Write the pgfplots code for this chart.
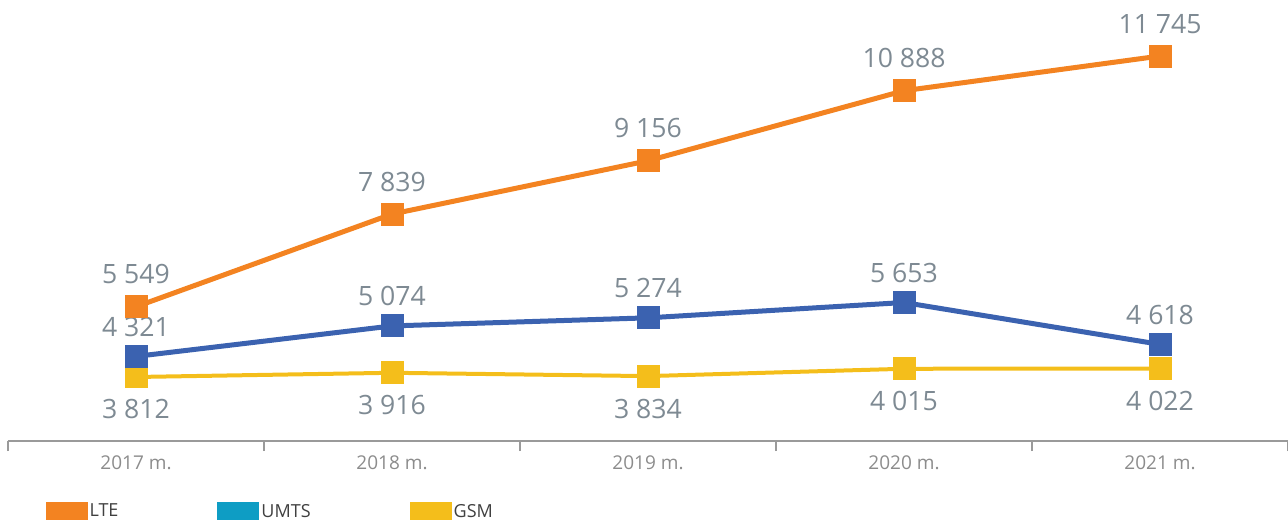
\documentclass[border=0pt]{standalone}
\usepackage{fontspec}
\setmainfont{Open Sans}
\usepackage{pgfplots}
\pgfplotsset{compat=1.18}
\definecolor{lte}{HTML}{F38321}
\definecolor{umts}{HTML}{3B62B0}
\definecolor{umtsleg}{HTML}{0E9DC4}
\definecolor{gsm}{HTML}{F4BE1B}
\definecolor{lbl}{HTML}{7E8A93}
\definecolor{ticktxt}{HTML}{8C8C8C}
\definecolor{axl}{HTML}{9A9A9A}
\definecolor{legtxt}{HTML}{404040}

\begin{document}
\begin{tikzpicture}
\begin{axis}[
  name=ax,
  scale only axis,
  width=640pt, height=220.5pt,
  xmin=-0.5, xmax=4.5,
  ymin=2230, ymax=13130,
  axis x line*=bottom,
  axis y line=none,
  axis line style={axl, line width=1pt},
  xtick={0,...,4},
  xticklabels={2017 m.,2018 m.,2019 m.,2020 m.,2021 m.},
  major tick length=0pt,
  minor xtick={-0.5,0.5,1.5,2.5,3.5,4.5},
  minor tick length=5pt,
  tick align=outside,
  minor tick style={axl, line width=1pt},
  xticklabel style={font=\fontsize{9.5}{11}\selectfont, text=ticktxt, yshift=-4pt},
  clip=false,
  /pgf/number format/assume math mode=true,
  nodes near coords={\pgfmathprintnumber[fixed,precision=0,1000 sep={\ }]{\pgfplotspointmeta}},
  every node near coord/.append style={font=\fontsize{13.3}{15}\selectfont, text=lbl, inner sep=0pt, anchor=base},
  legend image code/.code={\fill[#1, draw=none] (0pt,-5pt) rectangle (21pt,5pt);},
  legend style={at={(rel axis cs:0.029,-0.161)}, anchor=west, draw=none, fill=none,
    inner sep=0pt, legend columns=3, font=\fontsize{9}{10}\selectfont, text=legtxt,
    nodes={inner sep=1pt},
    /tikz/every even column/.append style={column sep=48.5pt}},
]

\addplot[gsm, line width=2pt, mark=square*, mark size=4.75pt, forget plot,
  every node near coord/.append style={yshift=-21pt}]
  coordinates {(0,3812) (1,3916) (2,3834) (3,4015) (4,4022)};

\addplot[umts, line width=2.5pt, mark=square*, mark size=4.5pt, forget plot,
  every node near coord/.append style={yshift=10pt}]
  coordinates {(0,4321) (1,5074) (2,5274) (3,5653) (4,4618)};

\addplot[lte, line width=2.5pt, mark=square*, mark size=4.5pt, forget plot,
  every node near coord/.append style={yshift=11.5pt}]
  coordinates {(0,5549) (1,7839) (2,9156) (3,10888) (4,11745)};

\addlegendimage{fill=lte}
\addlegendentry{LTE}
\addlegendimage{fill=umtsleg}
\addlegendentry{UMTS}
\addlegendimage{fill=gsm}
\addlegendentry{GSM}

\end{axis}
\pgfresetboundingbox
\path (ax.south west) ++(-4pt,-39pt) rectangle (ax.north east);
\end{tikzpicture}
\end{document}
